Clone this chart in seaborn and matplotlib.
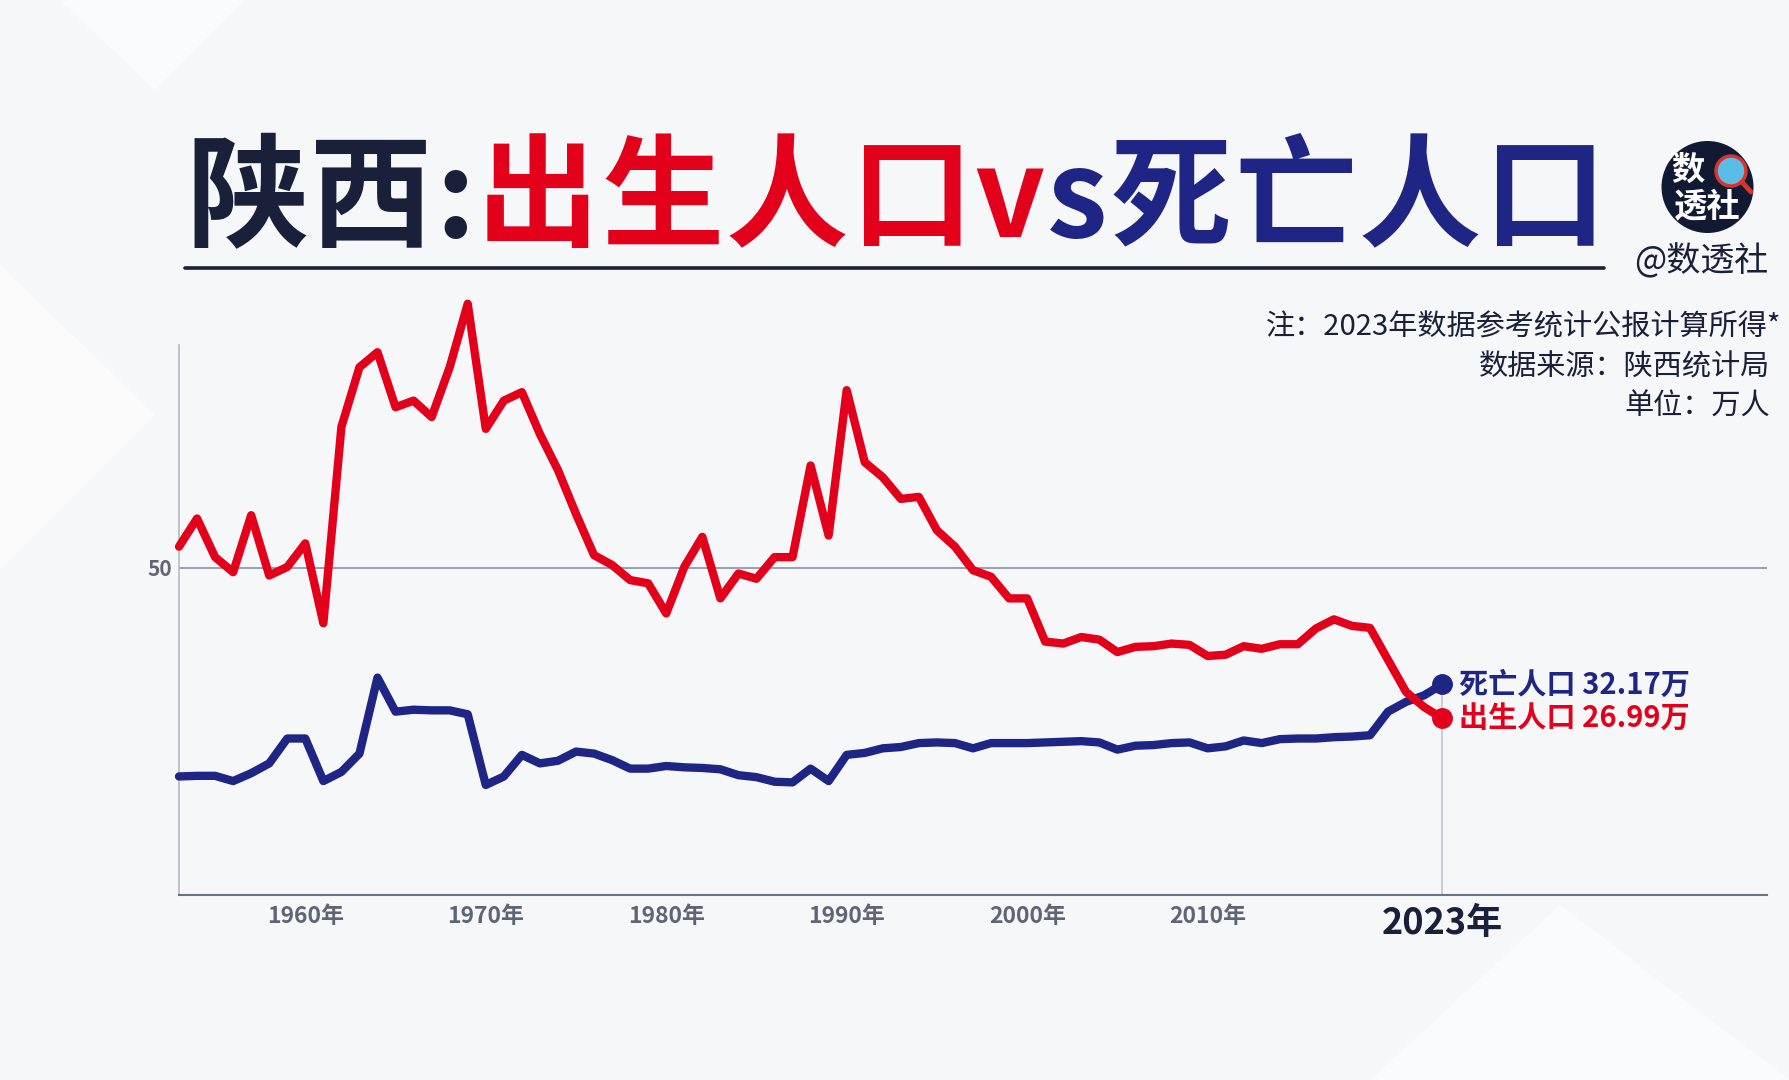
import matplotlib
matplotlib.use("Agg")
import matplotlib.pyplot as plt
import seaborn as sns
import pandas as pd
from matplotlib.patches import Ellipse, Polygon
from matplotlib.lines import Line2D

# ---------------- data (万人) ----------------
years = list(range(1953, 2024))
births = [53.2, 57.5, 51.6, 49.3, 58.0, 48.8, 50.1, 53.7, 41.5, 71.5,
          80.6, 82.9, 74.5, 75.5, 73.0, 80.6, 90.3, 71.2, 75.5, 76.8,
          70.4, 64.9, 58.2, 51.9, 50.4, 48.1, 47.6, 43.0, 50.1, 54.7,
          45.3, 49.1, 48.3, 51.6, 51.6, 65.6, 54.9, 77.1, 66.1, 63.8,
          60.5, 60.8, 55.7, 53.2, 49.6, 48.6, 45.3, 45.3, 38.7, 38.4,
          39.4, 39.0, 37.1, 37.9, 38.0, 38.4, 38.2, 36.5, 36.7, 38.0,
          37.6, 38.3, 38.3, 40.7, 42.1, 41.1, 40.8, 35.9, 31.0, 28.7,
          26.99]
deaths = [18.1, 18.2, 18.2, 17.4, 18.6, 20.1, 23.9, 23.9, 17.4, 18.8,
          21.6, 33.2, 28.0, 28.3, 28.2, 28.2, 27.6, 16.8, 18.1, 21.4,
          20.1, 20.5, 21.9, 21.6, 20.6, 19.3, 19.3, 19.7, 19.5, 19.4,
          19.2, 18.3, 18.0, 17.3, 17.2, 19.3, 17.4, 21.4, 21.7, 22.4,
          22.6, 23.2, 23.3, 23.2, 22.4, 23.2, 23.2, 23.2, 23.3, 23.4,
          23.5, 23.3, 22.2, 22.8, 22.9, 23.2, 23.3, 22.4, 22.7, 23.6,
          23.2, 23.8, 23.9, 23.9, 24.1, 24.2, 24.4, 28.0, 29.5, 30.5,
          32.17]
series_names = ["死亡人口", "出生人口"]
major_years = [1960, 1970, 1980, 1990, 2000, 2010, 2023]
major_labels = ["1960年", "1970年", "1980年", "1990年", "2000年", "2010年", "2023年"]

RED = "#E3001B"
NAVY = "#1F2585"
DARK = "#1A1F3A"
GRAY = "#5F6577"
BG = "#F6F7F9"

df = pd.concat([
    pd.DataFrame({"year": years, "value": deaths, "series": series_names[0]}),
    pd.DataFrame({"year": years, "value": births, "series": series_names[1]}),
])

sns.set_style("white")
plt.rcParams["font.family"] = ["Noto Sans CJK SC", "DejaVu Sans"]

W, H = 1790, 1080
fig = plt.figure(figsize=(W / 100, H / 100), dpi=100)
fig.patch.set_facecolor(BG)

def fx(px):
    return px / W

def fy(py):
    return 1 - py / H

# subtle background shapes
for pts, a in [
    ([(60, 0), (245, 0), (155, 90), (60, 0)], 0.55),
    ([(0, 265), (155, 415), (0, 570)], 0.6),
    ([(1370, 1080), (1560, 905), (1790, 1080)], 0.5),
]:
    fig.add_artist(Polygon([(fx(x), fy(y)) for x, y in pts], closed=True,
                           transform=fig.transFigure, facecolor="white",
                           edgecolor="none", alpha=a, zorder=0))

ax = fig.add_axes([fx(179), fy(895), fx(1767) - fx(179), (895 - 345) / H])
ax.set_facecolor("none")

sns.lineplot(data=df, x="year", y="value", hue="series", hue_order=series_names,
             palette=[NAVY, RED], linewidth=6.0, legend=False, ax=ax, zorder=5)
for ln in ax.lines:
    ln.set_clip_on(False)
    ln.set_solid_joinstyle("round")
    ln.set_solid_capstyle("round")

ax.set_xlim(1953, 2041)
ax.set_ylim(0, 84)

# reference line at 50 and vertical marker at 2023
ax.axhline(50, color="#8A8FA6", lw=1.2, zorder=1)
ax.plot([years[-1], years[-1]], [0, deaths[-1]], color="#BDC0C9", lw=1.1, zorder=2)

# end dots
ax.plot([years[-1]], [deaths[-1]], "o", color=NAVY, ms=14, clip_on=False, zorder=7)
ax.plot([years[-1]], [births[-1]], "o", color=RED, ms=14, clip_on=False, zorder=7)
ax.annotate(f"{series_names[0]} {deaths[-1]:.2f}万", (years[-1], deaths[-1]),
            xytext=(12, 0), textcoords="offset points", va="center", ha="left",
            color=NAVY, fontsize=21, fontweight="bold")
ax.annotate(f"{series_names[1]} {births[-1]:.2f}万", (years[-1], births[-1]),
            xytext=(12, 0), textcoords="offset points", va="center", ha="left",
            color=RED, fontsize=21, fontweight="bold")

# axes styling
sns.despine(ax=ax)
ax.spines["left"].set_color("#B5B9C4")
ax.spines["left"].set_linewidth(1.2)
ax.spines["left"].set_bounds(0, 84)
ax.spines["bottom"].set_color("#6B7285")
ax.spines["bottom"].set_linewidth(1.5)

ax.set_xticks(major_years)
ax.set_xticklabels(major_labels)
ax.set_xticks(years, minor=True)
ax.tick_params(axis="x", which="both", length=5, width=1, color="#8A8F9C",
               direction="out", pad=2)
for lab in ax.get_xticklabels():
    lab.set_color(GRAY)
    lab.set_fontsize(16.5)
    lab.set_fontweight("bold")
last = ax.get_xticklabels()[-1]
last.set_fontsize(26)
last.set_color(DARK)

ax.set_yticks([50])
ax.set_yticklabels(["50"])
ax.tick_params(axis="y", length=0, pad=5)
for lab in ax.get_yticklabels():
    lab.set_color(GRAY)
    lab.set_fontsize(15)
    lab.set_fontweight("bold")
ax.set_xlabel("")
ax.set_ylabel("")

# ---------------- title (per-glyph with slight tracking) ----------------
fig.canvas.draw()
r = fig.canvas.get_renderer()
x = fx(186)
track = 2.2 / W
for txt, col in [("陕西:", DARK), ("出生人口v", RED), ("s死亡人口", NAVY)]:
    for ch in txt:
        t = fig.text(x, fy(237), ch, color=col, fontsize=88, fontweight="heavy",
                     va="baseline", ha="left")
        bb = t.get_window_extent(renderer=r)
        x += bb.width / W + track

fig.add_artist(Line2D([fx(185), fx(1604)], [fy(268), fy(268)], color=DARK,
                      lw=2.6, transform=fig.transFigure))

# ---------------- logo ----------------
fig.add_artist(Ellipse((fx(1707.5), fy(187)), 92 / W, 92 / H,
                       transform=fig.transFigure, facecolor="#121A33",
                       edgecolor="none"))
fig.text(fx(1688), fy(170), "数", color="white", fontsize=24, fontweight="heavy",
         ha="center", va="center")
fig.text(fx(1707), fy(208), "透社", color="white", fontsize=24, fontweight="heavy",
         ha="center", va="center")
fig.add_artist(Line2D([fx(1742), fx(1751)], [fy(182), fy(192)], color="#D9342B",
                      lw=3.5, solid_capstyle="round", transform=fig.transFigure))
fig.add_artist(Ellipse((fx(1731), fy(171)), 30 / W, 30 / H,
                       transform=fig.transFigure, facecolor="#5BBDE6",
                       edgecolor="#D9342B", lw=2.5))
fig.text(fx(1701), fy(262), "@数透社", color=DARK, fontsize=24.5, fontweight="medium",
         ha="center", va="center")

# ---------------- notes ----------------
fig.text(fx(1781), fy(328), "注：2023年数据参考统计公报计算所得*", color=DARK,
         fontsize=21, ha="right", va="center")
fig.text(fx(1770), fy(368), "数据来源：陕西统计局", color=DARK,
         fontsize=21, ha="right", va="center")
fig.text(fx(1770), fy(407), "单位：万人", color=DARK,
         fontsize=21, ha="right", va="center")

fig.savefig("out.png", dpi=100, facecolor=BG)
